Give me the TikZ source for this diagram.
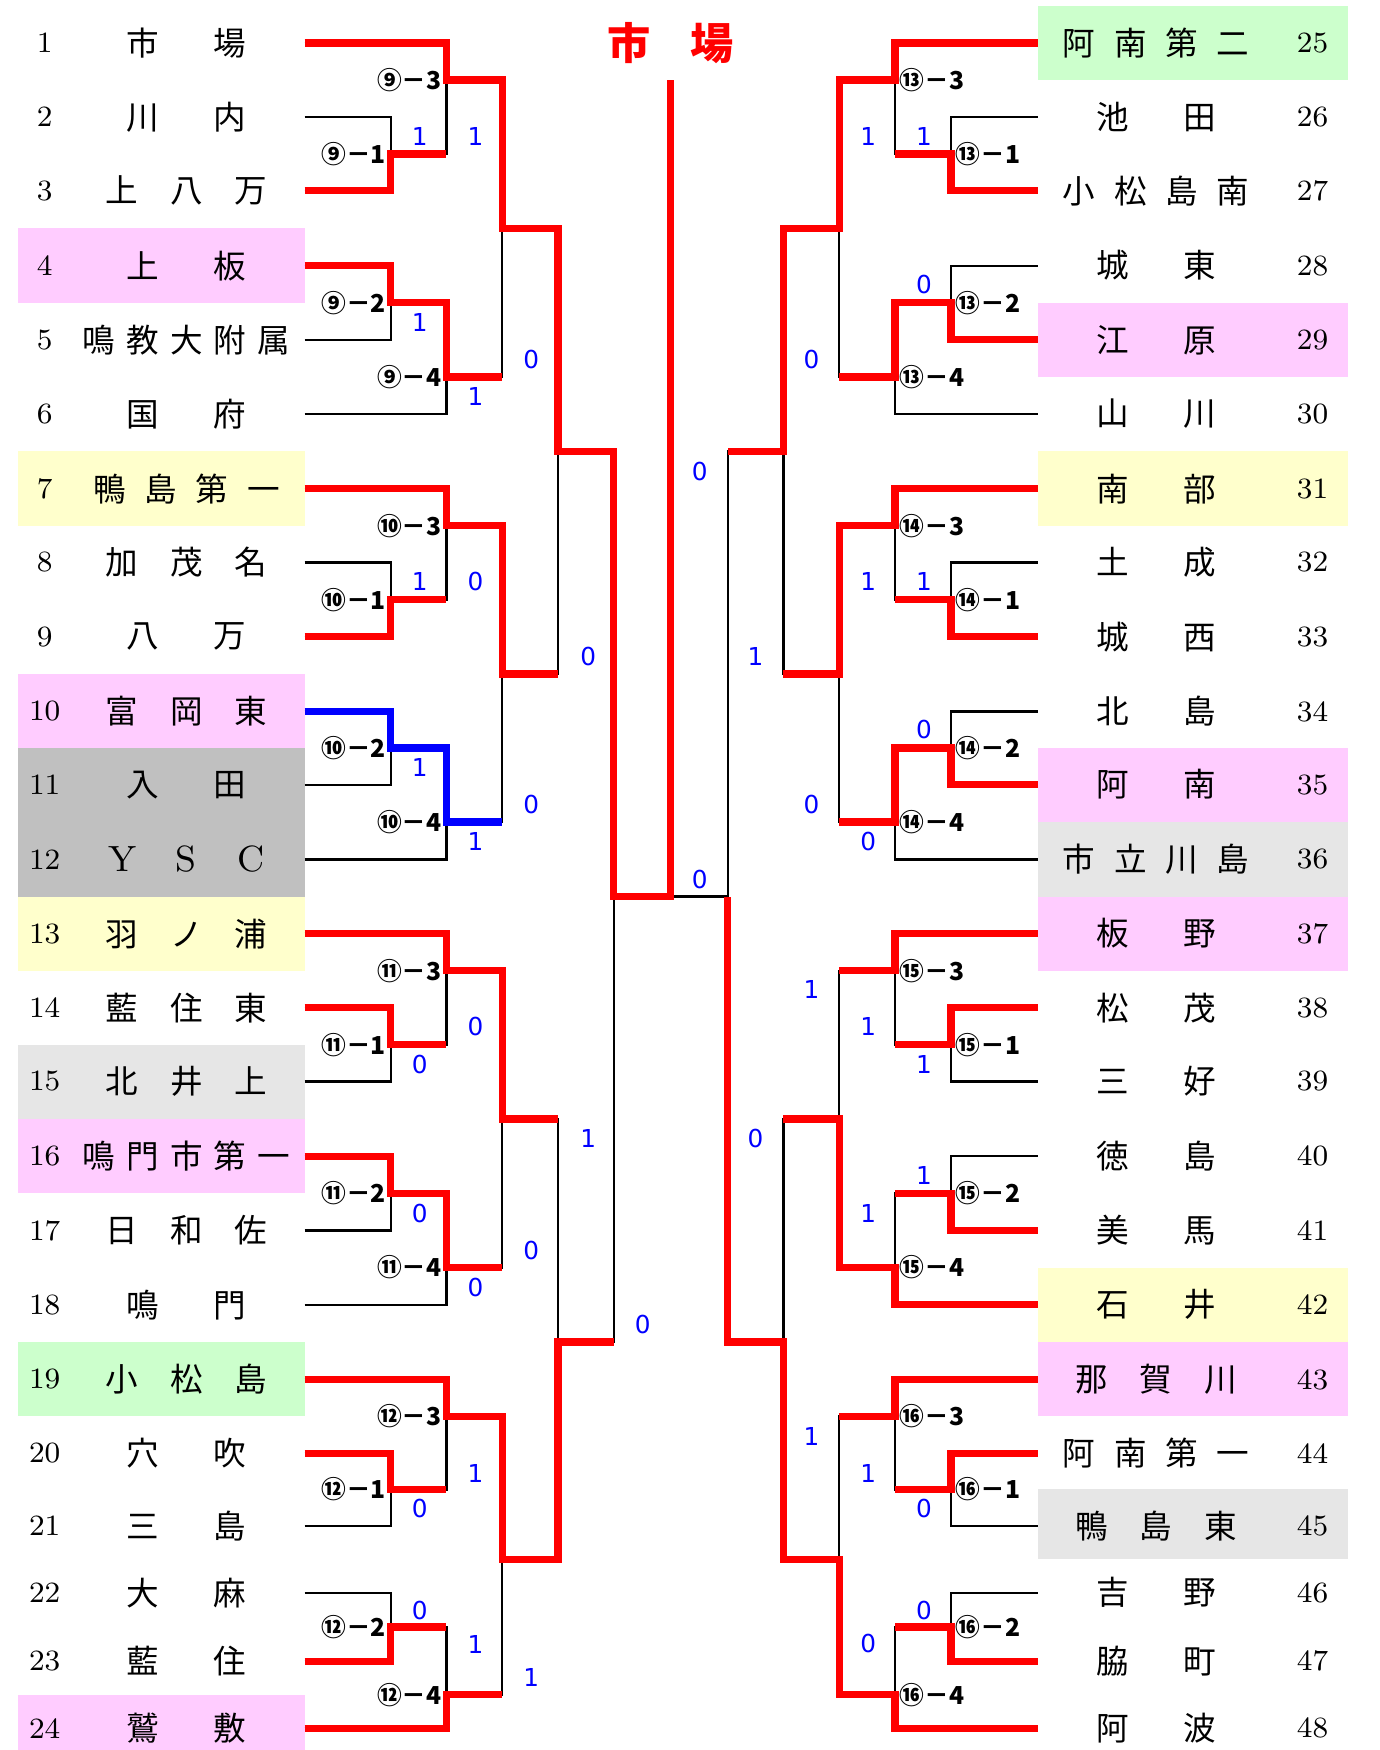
\documentclass[tikz,border=0pt]{standalone}
\usepackage{fontspec}
\usepackage{tikz}
\usetikzlibrary{calc}
\newfontfamily\jpfont{Noto Sans CJK JP}
\newfontfamily\scorefont{DejaVu Sans}
\definecolor{TourRed}{RGB}{255,0,0}
\definecolor{TourBlue}{RGB}{0,0,255}
\definecolor{pinkBG}{RGB}{255,204,255}
\definecolor{yellowBG}{RGB}{255,255,204}
\definecolor{greenBG}{RGB}{204,255,204}
\definecolor{grayBG}{RGB}{192,192,192}
\definecolor{paleBG}{RGB}{230,230,230}
% names are spread over fixed-pitch cells
\newcommand\pitchsz{}
\newcommand\pitchof[1]{\ifcase#1\or\or7.8mm\or5.75mm\or4.6mm\or3.9mm\fi}
\def\spreadloop#1{\ifx\relax#1\else\makebox[\pitchsz]{\ifnum`#1<256 \rmfamily\fontsize{9.3}{11}\selectfont\else\jpfont\fi#1}\expandafter\spreadloop\fi}
\newcommand\spreadname[2]{\def\pitchsz{#1}\expandafter\spreadloop#2\relax}

\begin{document}
\begin{tikzpicture}[x=0.01cm,y=-0.01cm,
    bare/.style={draw=black,line width=0.2mm},
    win/.style={draw=TourRed,line width=0.65mm},
    winb/.style={draw=TourBlue,line width=0.65mm},
    team/.style={font=\fontsize{8.3}{10}\selectfont,inner sep=0pt},
    num/.style={font=\fontsize{7.5}{9}\selectfont,inner sep=0pt},
    lab/.style={font=\fontsize{6.3}{7}\selectfont\jpfont\bfseries,inner sep=1pt},
    score/.style={font=\fontsize{6.3}{7}\selectfont\scorefont,text=TourBlue,inner sep=0pt}
  ]
  \path[use as bounding box,fill=white] (0,0) rectangle (1236,1568);

  % row lines
  \foreach \i/\y in {0/-28,1/38.5,2/105,3/171,4/238,5/304.5,6/371,7/438,8/504,
      9/570.5,10/637.5,11/703,12/770,13/836.5,14/903,15/969,16/1036,17/1102.5,
      18/1169,19/1236,20/1302,21/1367,22/1427,23/1488.5,24/1548.5,25/1608.5}
    \coordinate (r\i) at (0,\y);

  % coloured cells
  \foreach \k/\col [evaluate=\k as \km using int(\k-1),evaluate=\k as \kp using int(\k+1)]
      in {4/pinkBG,7/yellowBG,10/pinkBG,11/grayBG,12/grayBG,13/yellowBG,15/paleBG,
          16/pinkBG,19/greenBG,24/pinkBG}
    \fill[\col] ($(r\km)!.5!(r\k)+(16,0)$) rectangle ($(r\k)!.5!(r\kp)+(273,0)$);
  \foreach \k/\col [evaluate=\k as \km using int(\k-1),evaluate=\k as \kp using int(\k+1)]
      in {1/greenBG,5/pinkBG,7/yellowBG,11/pinkBG,12/paleBG,13/pinkBG,18/yellowBG,
          19/pinkBG,21/paleBG}
    \fill[\col] ($(r\km)!.5!(r\k)+(930,0)$) rectangle ($(r\k)!.5!(r\kp)+(1208,0)$);

  % teams, left side
  \foreach \i/\nch/\nam in {1/2/市場,2/2/川内,3/3/上八万,4/2/上板,5/5/鳴教大附属,6/2/国府,
      7/4/鴨島第一,8/3/加茂名,9/2/八万,10/3/富岡東,11/2/入田,12/3/YSC,13/3/羽ノ浦,
      14/3/藍住東,15/3/北井上,16/5/鳴門市第一,17/3/日和佐,18/2/鳴門,19/3/小松島,
      20/2/穴吹,21/2/三島,22/2/大麻,23/2/藍住,24/2/鷲敷}{
    \node[num] (k\i) at ($(r\i)+(40,0)$) {\i};
    \node[team] (n\i) at ($(r\i)+(167,0)$) {\spreadname{\pitchof{\nch}}{\nam}};
    \coordinate (a\i) at ($(r\i)+(273,0)$);
  }
  % teams, right side
  \foreach \i/\nch/\nam [evaluate=\i as \j using int(\i+24)] in {1/4/阿南第二,2/2/池田,
      3/4/小松島南,4/2/城東,5/2/江原,6/2/山川,7/2/南部,8/2/土成,9/2/城西,10/2/北島,
      11/2/阿南,12/4/市立川島,13/2/板野,14/2/松茂,15/2/三好,16/2/徳島,17/2/美馬,
      18/2/石井,19/3/那賀川,20/4/阿南第一,21/3/鴨島東,22/2/吉野,23/2/脇町,24/2/阿波}{
    \node[num] (k\j) at ($(r\i)+(1176,0)$) {\j};
    \node[team] (n\j) at ($(r\i)+(1036,0)$) {\spreadname{\pitchof{\nch}}{\nam}};
    \coordinate (a\j) at ($(r\i)+(930,0)$);
  }

  % match points: x of the bracket, row above the split
  \foreach \q/\x/\k [evaluate=\k as \kn using int(\k+1)] in {
      q9a/350/2,q9b/350/4,q9c/400/1,q9d/400/5,q9s/450/3,
      q10a/350/8,q10b/350/10,q10c/400/7,q10d/400/11,q10s/450/9,
      q11a/350/14,q11b/350/16,q11c/400/13,q11d/400/17,q11s/450/15,
      q12a/350/20,q12b/350/22,q12c/400/19,q12d/400/23,q12s/450/21,
      q13a/852/2,q13b/852/4,q13c/802/1,q13d/802/5,q13s/752/3,
      q14a/852/8,q14b/852/10,q14c/802/7,q14d/802/11,q14s/752/9,
      q15a/852/14,q15b/852/16,q15c/802/13,q15d/802/17,q15s/752/15,
      q16a/852/20,q16b/852/22,q16c/802/19,q16d/802/23,q16s/752/21,
      hL1/500/6,hL2/500/18,fL/550/12,hR1/702/6,hR2/702/18,fR/652/12}
    \coordinate (\q) at ($(r\k)!.5!(r\kn)+(\x,0)$);
  \coordinate (champ) at (601,72);

  % black bracket
  \foreach \m/\u/\l in {
      q9a/a2/a3,q9b/a4/a5,q9c/a1/q9a,q9d/q9b/a6,q9s/q9c/q9d,
      q10a/a8/a9,q10b/a10/a11,q10c/a7/q10a,q10d/q10b/a12,q10s/q10c/q10d,
      q11a/a14/a15,q11b/a16/a17,q11c/a13/q11a,q11d/q11b/a18,q11s/q11c/q11d,
      q12a/a20/a21,q12b/a22/a23,q12c/a19/q12a,q12d/q12b/a24,q12s/q12c/q12d,
      q13a/a26/a27,q13b/a28/a29,q13c/a25/q13a,q13d/q13b/a30,q13s/q13c/q13d,
      q14a/a32/a33,q14b/a34/a35,q14c/a31/q14a,q14d/q14b/a36,q14s/q14c/q14d,
      q15a/a38/a39,q15b/a40/a41,q15c/a37/q15a,q15d/q15b/a42,q15s/q15c/q15d,
      q16a/a44/a45,q16b/a46/a47,q16c/a43/q16a,q16d/q16b/a48,q16s/q16c/q16d,
      hL1/q9s/q10s,hL2/q11s/q12s,fL/hL1/hL2,hR1/q13s/q14s,hR2/q15s/q16s,fR/hR1/hR2}
    \draw[bare] (\u) -| (\m) (\l) -| (\m);
  \draw[bare] (fR) -- (fR -| champ);

  % winners
  \draw[win] (a1) -| (q9c) -| (q9s) -| (hL1) -| (fL) -| (champ);
  \draw[win] (a3) -| (q9a) -- (q9a -| q9c);
  \draw[win] (a4) -| (q9b) -| (q9d) -- (q9d -| q9s);
  \draw[win] (a7) -| (q10c) -| (q10s) -- (q10s -| hL1);
  \draw[win] (a9) -| (q10a) -- (q10a -| q10c);
  \draw[winb] (a10) -| (q10b) -| (q10d) -- (q10d -| q10s);
  \draw[win] (a13) -| (q11c) -| (q11s) -- (q11s -| hL2);
  \draw[win] (a14) -| (q11a) -- (q11a -| q11c);
  \draw[win] (a16) -| (q11b) -| (q11d) -- (q11d -| q11s);
  \draw[win] (a19) -| (q12c) -| (q12s) -| (hL2) -- (hL2 -| fL);
  \draw[win] (a20) -| (q12a) -- (q12a -| q12c);
  \draw[win] (a23) -| (q12b) -- (q12b -| q12d);
  \draw[win] (a24) -| (q12d) -- (q12d -| q12s);
  \draw[win] (a25) -| (q13c) -| (q13s) -| (hR1) -- (hR1 -| fR);
  \draw[win] (a27) -| (q13a) -- (q13a -| q13c);
  \draw[win] (a29) -| (q13b) -| (q13d) -- (q13d -| q13s);
  \draw[win] (a31) -| (q14c) -| (q14s) -- (q14s -| hR1);
  \draw[win] (a33) -| (q14a) -- (q14a -| q14c);
  \draw[win] (a35) -| (q14b) -| (q14d) -- (q14d -| q14s);
  \draw[win] (a37) -| (q15c) -- (q15c -| q15s);
  \draw[win] (a38) -| (q15a) -- (q15a -| q15c);
  \draw[win] (a41) -| (q15b) -- (q15b -| q15d);
  \draw[win] (a42) -| (q15d) -| (q15s) -- (q15s -| hR2);
  \draw[win] (a43) -| (q16c) -- (q16c -| q16s);
  \draw[win] (a44) -| (q16a) -- (q16a -| q16c);
  \draw[win] (a47) -| (q16b) -- (q16b -| q16d);
  \draw[win] (a48) -| (q16d) -| (q16s) -| (hR2) -| (fR);

  \node[font=\fontsize{11}{13}\selectfont\bfseries,text=TourRed,inner sep=0pt]
    (title) at (601,38.5) {\spreadname{7.4mm}{市場}};

  % match numbers
  \foreach \n/\cn in {9/⑨,10/⑩,11/⑪,12/⑫}
    \foreach \s/\g in {a/1,b/2,c/3,d/4}
      \node[lab,anchor=east] (l\n\s) at (q\n\s) {\cn－\g};
  \foreach \n/\cn in {13/⑬,14/⑭,15/⑮,16/⑯}
    \foreach \s/\g in {a/1,b/2,c/3,d/4}
      \node[lab,anchor=west] (l\n\s) at (q\n\s) {\cn－\g};

  % scores
  \foreach \x/\y/\v [count=\s] in {
      376/122/1,426/122/1,376/289/1,476/322/0,426/355/1,
      376/521/1,426/521/0,527/588/0,376/688/1,476/721/0,426/754/1,
      426/920/0,376/954/0,527/1020/1,376/1087/0,476/1120/0,426/1154/0,
      576/1187/0,426/1320/1,376/1352/0,376/1443/0,426/1473/1,476/1503/1,
      627/422/0,627/788/0,
      778/122/1,828/122/1,828/255/0,727/322/0,
      778/521/1,828/521/1,677/588/1,828/654/0,727/721/0,778/754/0,
      727/887/1,778/920/1,828/954/1,677/1020/0,828/1053/1,778/1087/1,
      727/1287/1,778/1320/1,828/1352/0,828/1443/0,778/1473/0}
    \node[score] (sc\s) at (\x,\y) {\v};
\end{tikzpicture}
\end{document}
